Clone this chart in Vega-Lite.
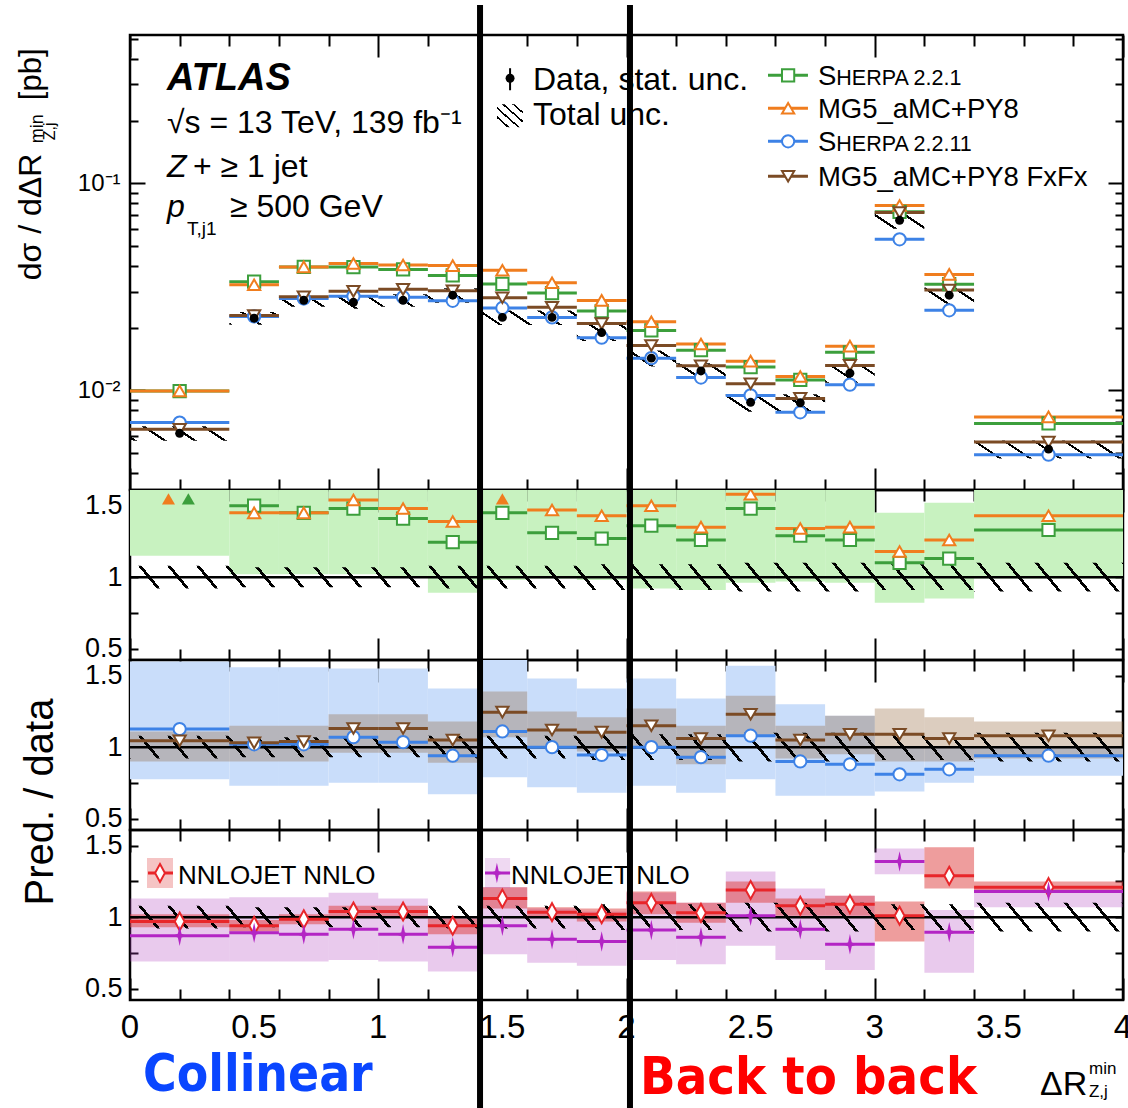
{
"$schema":"https://vega.github.io/schema/vega-lite/v6.json",
"background":"white",
"padding":{"left":13,"top":0,"right":0,"bottom":0},
"spacing":0,
"bounds":"flush",
"config":{
 "view":{"stroke":"black","strokeWidth":2.5},
 "font":"Liberation Sans",
 "text":{"color":"black","font":"Liberation Sans"},
 "rule":{"color":"black"},
 "point":{"opacity":1},
 "axis":{"domain":false,"ticks":false,"tickSize":0,"grid":true,"gridColor":"black","gridWidth":2,"gridOpacity":1,"labelColor":"black","labelFont":"Liberation Sans","zindex":1,"labelOverlap":false,"labelFlush":false,"title":null},
 "area":{"fill":{"gradient":"linear","x1":0,"y1":1,"x2":1.3266,"y2":0.9688,"stops":[
{"offset":0,"color":"transparent"},{"offset":0,"color":"#000"},{"offset":0.0028,"color":"#000"},{"offset":0.0028,"color":"transparent"},
{"offset":0.022,"color":"transparent"},{"offset":0.022,"color":"#000"},{"offset":0.0248,"color":"#000"},{"offset":0.0248,"color":"transparent"},
{"offset":0.044,"color":"transparent"},{"offset":0.044,"color":"#000"},{"offset":0.0468,"color":"#000"},{"offset":0.0468,"color":"transparent"},
{"offset":0.066,"color":"transparent"},{"offset":0.066,"color":"#000"},{"offset":0.0688,"color":"#000"},{"offset":0.0688,"color":"transparent"},
{"offset":0.088,"color":"transparent"},{"offset":0.088,"color":"#000"},{"offset":0.0908,"color":"#000"},{"offset":0.0908,"color":"transparent"},
{"offset":0.11,"color":"transparent"},{"offset":0.11,"color":"#000"},{"offset":0.1128,"color":"#000"},{"offset":0.1128,"color":"transparent"},
{"offset":0.132,"color":"transparent"},{"offset":0.132,"color":"#000"},{"offset":0.1348,"color":"#000"},{"offset":0.1348,"color":"transparent"},
{"offset":0.154,"color":"transparent"},{"offset":0.154,"color":"#000"},{"offset":0.1568,"color":"#000"},{"offset":0.1568,"color":"transparent"},
{"offset":0.176,"color":"transparent"},{"offset":0.176,"color":"#000"},{"offset":0.1788,"color":"#000"},{"offset":0.1788,"color":"transparent"},
{"offset":0.198,"color":"transparent"},{"offset":0.198,"color":"#000"},{"offset":0.2008,"color":"#000"},{"offset":0.2008,"color":"transparent"},
{"offset":0.22,"color":"transparent"},{"offset":0.22,"color":"#000"},{"offset":0.2228,"color":"#000"},{"offset":0.2228,"color":"transparent"},
{"offset":0.242,"color":"transparent"},{"offset":0.242,"color":"#000"},{"offset":0.2448,"color":"#000"},{"offset":0.2448,"color":"transparent"},
{"offset":0.264,"color":"transparent"},{"offset":0.264,"color":"#000"},{"offset":0.2668,"color":"#000"},{"offset":0.2668,"color":"transparent"},
{"offset":0.286,"color":"transparent"},{"offset":0.286,"color":"#000"},{"offset":0.2888,"color":"#000"},{"offset":0.2888,"color":"transparent"},
{"offset":0.308,"color":"transparent"},{"offset":0.308,"color":"#000"},{"offset":0.3108,"color":"#000"},{"offset":0.3108,"color":"transparent"},
{"offset":0.33,"color":"transparent"},{"offset":0.33,"color":"#000"},{"offset":0.3328,"color":"#000"},{"offset":0.3328,"color":"transparent"},
{"offset":0.352,"color":"transparent"},{"offset":0.352,"color":"#000"},{"offset":0.3548,"color":"#000"},{"offset":0.3548,"color":"transparent"},
{"offset":0.374,"color":"transparent"},{"offset":0.374,"color":"#000"},{"offset":0.3768,"color":"#000"},{"offset":0.3768,"color":"transparent"},
{"offset":0.396,"color":"transparent"},{"offset":0.396,"color":"#000"},{"offset":0.3988,"color":"#000"},{"offset":0.3988,"color":"transparent"},
{"offset":0.418,"color":"transparent"},{"offset":0.418,"color":"#000"},{"offset":0.4208,"color":"#000"},{"offset":0.4208,"color":"transparent"},
{"offset":0.44,"color":"transparent"},{"offset":0.44,"color":"#000"},{"offset":0.4428,"color":"#000"},{"offset":0.4428,"color":"transparent"},
{"offset":0.462,"color":"transparent"},{"offset":0.462,"color":"#000"},{"offset":0.4648,"color":"#000"},{"offset":0.4648,"color":"transparent"},
{"offset":0.484,"color":"transparent"},{"offset":0.484,"color":"#000"},{"offset":0.4868,"color":"#000"},{"offset":0.4868,"color":"transparent"},
{"offset":0.506,"color":"transparent"},{"offset":0.506,"color":"#000"},{"offset":0.5088,"color":"#000"},{"offset":0.5088,"color":"transparent"},
{"offset":0.528,"color":"transparent"},{"offset":0.528,"color":"#000"},{"offset":0.5308,"color":"#000"},{"offset":0.5308,"color":"transparent"},
{"offset":0.55,"color":"transparent"},{"offset":0.55,"color":"#000"},{"offset":0.5528,"color":"#000"},{"offset":0.5528,"color":"transparent"},
{"offset":0.572,"color":"transparent"},{"offset":0.572,"color":"#000"},{"offset":0.5748,"color":"#000"},{"offset":0.5748,"color":"transparent"},
{"offset":0.594,"color":"transparent"},{"offset":0.594,"color":"#000"},{"offset":0.5968,"color":"#000"},{"offset":0.5968,"color":"transparent"},
{"offset":0.616,"color":"transparent"},{"offset":0.616,"color":"#000"},{"offset":0.6188,"color":"#000"},{"offset":0.6188,"color":"transparent"},
{"offset":0.638,"color":"transparent"},{"offset":0.638,"color":"#000"},{"offset":0.6408,"color":"#000"},{"offset":0.6408,"color":"transparent"},
{"offset":0.66,"color":"transparent"},{"offset":0.66,"color":"#000"},{"offset":0.6628,"color":"#000"},{"offset":0.6628,"color":"transparent"},
{"offset":0.682,"color":"transparent"},{"offset":0.682,"color":"#000"},{"offset":0.6848,"color":"#000"},{"offset":0.6848,"color":"transparent"},
{"offset":0.704,"color":"transparent"},{"offset":0.704,"color":"#000"},{"offset":0.7068,"color":"#000"},{"offset":0.7068,"color":"transparent"},
{"offset":0.726,"color":"transparent"},{"offset":0.726,"color":"#000"},{"offset":0.7288,"color":"#000"},{"offset":0.7288,"color":"transparent"},
{"offset":0.748,"color":"transparent"},{"offset":0.748,"color":"#000"},{"offset":0.7508,"color":"#000"},{"offset":0.7508,"color":"transparent"},
{"offset":0.77,"color":"transparent"},{"offset":0.77,"color":"#000"},{"offset":0.7728,"color":"#000"},{"offset":0.7728,"color":"transparent"}
 ]}}
},
"datasets":{
 "dat":[
{"lo":0,"hi":0.4,"c":0.2,"d":0.0062},
{"lo":0.4,"hi":0.6,"c":0.5,"d":0.0223},
{"lo":0.6,"hi":0.8,"c":0.7,"d":0.0272},
{"lo":0.8,"hi":1.0,"c":0.9,"d":0.0266},
{"lo":1.0,"hi":1.2,"c":1.1,"d":0.0272},
{"lo":1.2,"hi":1.4,"c":1.3,"d":0.0288},
{"lo":1.4,"hi":1.6,"c":1.5,"d":0.0225},
{"lo":1.6,"hi":1.8,"c":1.7,"d":0.0225},
{"lo":1.8,"hi":2.0,"c":1.9,"d":0.019},
{"lo":2.0,"hi":2.2,"c":2.1,"d":0.0143},
{"lo":2.2,"hi":2.4,"c":2.3,"d":0.0124},
{"lo":2.4,"hi":2.6,"c":2.5,"d":0.00875},
{"lo":2.6,"hi":2.8,"c":2.7,"d":0.0087},
{"lo":2.8,"hi":3.0,"c":2.9,"d":0.0121},
{"lo":3.0,"hi":3.2,"c":3.1,"d":0.0662},
{"lo":3.2,"hi":3.4,"c":3.3,"d":0.0288},
{"lo":3.4,"hi":4.0,"c":3.7,"d":0.0052}
 ],
 "hat":[
{"x":0,"alo":0.005704,"ahi":0.006696,"rlo":0.92,"rhi":1.08},
{"x":0.4,"alo":0.020739,"ahi":0.023861,"rlo":0.93,"rhi":1.07},
{"x":0.6,"alo":0.025296,"ahi":0.029104,"rlo":0.93,"rhi":1.07},
{"x":0.8,"alo":0.024738,"ahi":0.028462,"rlo":0.93,"rhi":1.07},
{"x":1.0,"alo":0.025296,"ahi":0.029104,"rlo":0.93,"rhi":1.07},
{"x":1.2,"alo":0.026496,"ahi":0.031104,"rlo":0.92,"rhi":1.08},
{"x":1.4,"alo":0.0207,"ahi":0.0243,"rlo":0.92,"rhi":1.08},
{"x":1.6,"alo":0.0207,"ahi":0.0243,"rlo":0.92,"rhi":1.08},
{"x":1.8,"alo":0.01729,"ahi":0.02071,"rlo":0.91,"rhi":1.09},
{"x":2.0,"alo":0.013013,"ahi":0.015587,"rlo":0.91,"rhi":1.09},
{"x":2.2,"alo":0.011284,"ahi":0.013516,"rlo":0.91,"rhi":1.09},
{"x":2.4,"alo":0.007875,"ahi":0.009625,"rlo":0.9,"rhi":1.1},
{"x":2.6,"alo":0.00783,"ahi":0.00957,"rlo":0.9,"rhi":1.1},
{"x":2.8,"alo":0.01089,"ahi":0.01331,"rlo":0.9,"rhi":1.1},
{"x":3.0,"alo":0.060242,"ahi":0.072158,"rlo":0.91,"rhi":1.09},
{"x":3.2,"alo":0.026208,"ahi":0.031392,"rlo":0.91,"rhi":1.09},
{"x":3.4,"alo":0.00468,"ahi":0.00572,"rlo":0.9,"rhi":1.1},
{"x":4.0,"alo":0.00468,"ahi":0.00572,"rlo":0.9,"rhi":1.1}
 ],
 "splits":[{"b":1.41},{"b":2.014}],
 "xl":[{"v":0},{"v":0.5},{"v":1},{"v":1.5},{"v":2},{"v":2.5},{"v":3},{"v":3.5},{"v":4}],
 "arrows":[{"x":0.155,"s":"MG5"},{"x":0.235,"s":"S221"},{"x":1.5,"s":"MG5"}],
 "pred":[
{"s":"S221","lo":0,"hi":0.4,"c":0.2,"v":0.00992,"r":1.6,"bl":1.15,"bh":1.7},
{"s":"S221","lo":0.4,"hi":0.6,"c":0.5,"v":0.03345,"r":1.5,"bl":1.02,"bh":1.7},
{"s":"S221","lo":0.6,"hi":0.8,"c":0.7,"v":0.03944,"r":1.45,"bl":1.02,"bh":1.7},
{"s":"S221","lo":0.8,"hi":1.0,"c":0.9,"v":0.03937,"r":1.48,"bl":1.02,"bh":1.7},
{"s":"S221","lo":1.0,"hi":1.2,"c":1.1,"v":0.03835,"r":1.41,"bl":1.0,"bh":1.7},
{"s":"S221","lo":1.2,"hi":1.4,"c":1.3,"v":0.03586,"r":1.245,"bl":0.89,"bh":1.65},
{"s":"S221","lo":1.4,"hi":1.6,"c":1.5,"v":0.03263,"r":1.45,"bl":0.98,"bh":1.7},
{"s":"S221","lo":1.6,"hi":1.8,"c":1.7,"v":0.02948,"r":1.31,"bl":0.99,"bh":1.7},
{"s":"S221","lo":1.8,"hi":2.0,"c":1.9,"v":0.02413,"r":1.27,"bl":0.98,"bh":1.7},
{"s":"S221","lo":2.0,"hi":2.2,"c":2.1,"v":0.01945,"r":1.36,"bl":0.92,"bh":1.7},
{"s":"S221","lo":2.2,"hi":2.4,"c":2.3,"v":0.01562,"r":1.26,"bl":0.91,"bh":1.7},
{"s":"S221","lo":2.4,"hi":2.6,"c":2.5,"v":0.01295,"r":1.48,"bl":0.96,"bh":1.7},
{"s":"S221","lo":2.6,"hi":2.8,"c":2.7,"v":0.01122,"r":1.29,"bl":0.97,"bh":1.7},
{"s":"S221","lo":2.8,"hi":3.0,"c":2.9,"v":0.01525,"r":1.26,"bl":0.96,"bh":1.7},
{"s":"S221","lo":3.0,"hi":3.2,"c":3.1,"v":0.07282,"r":1.1,"bl":0.82,"bh":1.45},
{"s":"S221","lo":3.2,"hi":3.4,"c":3.3,"v":0.03254,"r":1.13,"bl":0.85,"bh":1.52},
{"s":"S221","lo":3.4,"hi":4.0,"c":3.7,"v":0.00692,"r":1.33,"bl":0.99,"bh":1.7},
{"s":"MG5","lo":0,"hi":0.4,"c":0.2,"v":0.00992,"r":1.6},
{"s":"MG5","lo":0.4,"hi":0.6,"c":0.5,"v":0.03234,"r":1.45},
{"s":"MG5","lo":0.6,"hi":0.8,"c":0.7,"v":0.03944,"r":1.45},
{"s":"MG5","lo":0.8,"hi":1.0,"c":0.9,"v":0.04096,"r":1.54},
{"s":"MG5","lo":1.0,"hi":1.2,"c":1.1,"v":0.04026,"r":1.48},
{"s":"MG5","lo":1.2,"hi":1.4,"c":1.3,"v":0.04003,"r":1.39},
{"s":"MG5","lo":1.4,"hi":1.6,"c":1.5,"v":0.03803,"r":1.69},
{"s":"MG5","lo":1.6,"hi":1.8,"c":1.7,"v":0.03308,"r":1.47},
{"s":"MG5","lo":1.8,"hi":2.0,"c":1.9,"v":0.02717,"r":1.43},
{"s":"MG5","lo":2.0,"hi":2.2,"c":2.1,"v":0.02145,"r":1.5},
{"s":"MG5","lo":2.2,"hi":2.4,"c":2.3,"v":0.01674,"r":1.35},
{"s":"MG5","lo":2.4,"hi":2.6,"c":2.5,"v":0.01383,"r":1.58},
{"s":"MG5","lo":2.6,"hi":2.8,"c":2.7,"v":0.01166,"r":1.34},
{"s":"MG5","lo":2.8,"hi":3.0,"c":2.9,"v":0.01634,"r":1.35},
{"s":"MG5","lo":3.0,"hi":3.2,"c":3.1,"v":0.07812,"r":1.18},
{"s":"MG5","lo":3.2,"hi":3.4,"c":3.3,"v":0.03629,"r":1.26},
{"s":"MG5","lo":3.4,"hi":4.0,"c":3.7,"v":0.00744,"r":1.43},
{"s":"S2211","lo":0,"hi":0.4,"c":0.2,"v":0.00699,"r":1.127,"bl":0.775,"bh":1.6},
{"s":"S2211","lo":0.4,"hi":0.6,"c":0.5,"v":0.02275,"r":1.02,"bl":0.73,"bh":1.56},
{"s":"S2211","lo":0.6,"hi":0.8,"c":0.7,"v":0.02774,"r":1.02,"bl":0.73,"bh":1.56},
{"s":"S2211","lo":0.8,"hi":1.0,"c":0.9,"v":0.02846,"r":1.07,"bl":0.75,"bh":1.55},
{"s":"S2211","lo":1.0,"hi":1.2,"c":1.1,"v":0.02815,"r":1.035,"bl":0.75,"bh":1.55},
{"s":"S2211","lo":1.2,"hi":1.4,"c":1.3,"v":0.02707,"r":0.94,"bl":0.67,"bh":1.41},
{"s":"S2211","lo":1.4,"hi":1.6,"c":1.5,"v":0.02498,"r":1.11,"bl":0.79,"bh":1.62},
{"s":"S2211","lo":1.6,"hi":1.8,"c":1.7,"v":0.0225,"r":1.0,"bl":0.72,"bh":1.48},
{"s":"S2211","lo":1.8,"hi":2.0,"c":1.9,"v":0.01796,"r":0.945,"bl":0.68,"bh":1.41},
{"s":"S2211","lo":2.0,"hi":2.2,"c":2.1,"v":0.0143,"r":1.0,"bl":0.73,"bh":1.48},
{"s":"S2211","lo":2.2,"hi":2.4,"c":2.3,"v":0.01153,"r":0.93,"bl":0.68,"bh":1.34},
{"s":"S2211","lo":2.4,"hi":2.6,"c":2.5,"v":0.00945,"r":1.08,"bl":0.775,"bh":1.57},
{"s":"S2211","lo":2.6,"hi":2.8,"c":2.7,"v":0.00783,"r":0.9,"bl":0.66,"bh":1.3},
{"s":"S2211","lo":2.8,"hi":3.0,"c":2.9,"v":0.01065,"r":0.88,"bl":0.66,"bh":1.22},
{"s":"S2211","lo":3.0,"hi":3.2,"c":3.1,"v":0.05362,"r":0.81,"bl":0.69,"bh":1.0},
{"s":"S2211","lo":3.2,"hi":3.4,"c":3.3,"v":0.02434,"r":0.845,"bl":0.75,"bh":1.0},
{"s":"S2211","lo":3.4,"hi":4.0,"c":3.7,"v":0.00489,"r":0.94,"bl":0.8,"bh":1.0},
{"s":"FxFx","lo":0,"hi":0.4,"c":0.2,"v":0.00648,"r":1.045,"bl":0.9,"bh":1.11},
{"s":"FxFx","lo":0.4,"hi":0.6,"c":0.5,"v":0.02297,"r":1.03,"bl":0.9,"bh":1.15},
{"s":"FxFx","lo":0.6,"hi":0.8,"c":0.7,"v":0.02829,"r":1.04,"bl":0.9,"bh":1.15},
{"s":"FxFx","lo":0.8,"hi":1.0,"c":0.9,"v":0.03006,"r":1.13,"bl":0.96,"bh":1.23},
{"s":"FxFx","lo":1.0,"hi":1.2,"c":1.1,"v":0.03074,"r":1.13,"bl":0.96,"bh":1.23},
{"s":"FxFx","lo":1.2,"hi":1.4,"c":1.3,"v":0.03024,"r":1.05,"bl":0.89,"bh":1.18},
{"s":"FxFx","lo":1.4,"hi":1.6,"c":1.5,"v":0.02801,"r":1.245,"bl":1.07,"bh":1.39},
{"s":"FxFx","lo":1.6,"hi":1.8,"c":1.7,"v":0.0252,"r":1.12,"bl":0.99,"bh":1.25},
{"s":"FxFx","lo":1.8,"hi":2.0,"c":1.9,"v":0.021,"r":1.105,"bl":0.97,"bh":1.21},
{"s":"FxFx","lo":2.0,"hi":2.2,"c":2.1,"v":0.01645,"r":1.15,"bl":0.99,"bh":1.27},
{"s":"FxFx","lo":2.2,"hi":2.4,"c":2.3,"v":0.01314,"r":1.06,"bl":0.88,"bh":1.15},
{"s":"FxFx","lo":2.4,"hi":2.6,"c":2.5,"v":0.01076,"r":1.23,"bl":1.08,"bh":1.36},
{"s":"FxFx","lo":2.6,"hi":2.8,"c":2.7,"v":0.00914,"r":1.05,"bl":0.92,"bh":1.15},
{"s":"FxFx","lo":2.8,"hi":3.0,"c":2.9,"v":0.01319,"r":1.09,"bl":0.95,"bh":1.22},
{"s":"FxFx","lo":3.0,"hi":3.2,"c":3.1,"v":0.07216,"r":1.09,"bl":0.9,"bh":1.27},
{"s":"FxFx","lo":3.2,"hi":3.4,"c":3.3,"v":0.03053,"r":1.06,"bl":0.9,"bh":1.21},
{"s":"FxFx","lo":3.4,"hi":4.0,"c":3.7,"v":0.00562,"r":1.08,"bl":0.92,"bh":1.18},
{"s":"NLO","lo":0,"hi":0.4,"c":0.2,"r":0.87,"bl":0.69,"bh":1.13},
{"s":"NLO","lo":0.4,"hi":0.6,"c":0.5,"r":0.89,"bl":0.69,"bh":1.14},
{"s":"NLO","lo":0.6,"hi":0.8,"c":0.7,"r":0.88,"bl":0.69,"bh":1.14},
{"s":"NLO","lo":0.8,"hi":1.0,"c":0.9,"r":0.915,"bl":0.7,"bh":1.17},
{"s":"NLO","lo":1.0,"hi":1.2,"c":1.1,"r":0.88,"bl":0.69,"bh":1.13},
{"s":"NLO","lo":1.2,"hi":1.4,"c":1.3,"r":0.79,"bl":0.62,"bh":1.0},
{"s":"NLO","lo":1.4,"hi":1.6,"c":1.5,"r":0.94,"bl":0.74,"bh":1.21},
{"s":"NLO","lo":1.6,"hi":1.8,"c":1.7,"r":0.845,"bl":0.68,"bh":1.06},
{"s":"NLO","lo":1.8,"hi":2.0,"c":1.9,"r":0.83,"bl":0.66,"bh":1.04},
{"s":"NLO","lo":2.0,"hi":2.2,"c":2.1,"r":0.91,"bl":0.7,"bh":1.17},
{"s":"NLO","lo":2.2,"hi":2.4,"c":2.3,"r":0.86,"bl":0.67,"bh":1.1},
{"s":"NLO","lo":2.4,"hi":2.6,"c":2.5,"r":1.01,"bl":0.8,"bh":1.32},
{"s":"NLO","lo":2.6,"hi":2.8,"c":2.7,"r":0.915,"bl":0.7,"bh":1.2},
{"s":"NLO","lo":2.8,"hi":3.0,"c":2.9,"r":0.81,"bl":0.63,"bh":1.15},
{"s":"NLO","lo":3.0,"hi":3.2,"c":3.1,"r":1.39,"bl":1.3,"bh":1.48},
{"s":"NLO","lo":3.2,"hi":3.4,"c":3.3,"r":0.895,"bl":0.61,"bh":1.05},
{"s":"NLO","lo":3.4,"hi":4.0,"c":3.7,"r":1.18,"bl":1.07,"bh":1.2},
{"s":"NNLO","lo":0,"hi":0.4,"c":0.2,"r":0.97,"bl":0.93,"bh":1.02},
{"s":"NNLO","lo":0.4,"hi":0.6,"c":0.5,"r":0.94,"bl":0.9,"bh":0.98},
{"s":"NNLO","lo":0.6,"hi":0.8,"c":0.7,"r":0.985,"bl":0.95,"bh":1.02},
{"s":"NNLO","lo":0.8,"hi":1.0,"c":0.9,"r":1.04,"bl":1.0,"bh":1.08},
{"s":"NNLO","lo":1.0,"hi":1.2,"c":1.1,"r":1.04,"bl":1.0,"bh":1.08},
{"s":"NNLO","lo":1.2,"hi":1.4,"c":1.3,"r":0.94,"bl":0.88,"bh":0.99},
{"s":"NNLO","lo":1.4,"hi":1.6,"c":1.5,"r":1.13,"bl":1.06,"bh":1.21},
{"s":"NNLO","lo":1.6,"hi":1.8,"c":1.7,"r":1.035,"bl":1.0,"bh":1.07},
{"s":"NNLO","lo":1.8,"hi":2.0,"c":1.9,"r":1.02,"bl":0.97,"bh":1.06},
{"s":"NNLO","lo":2.0,"hi":2.2,"c":2.1,"r":1.1,"bl":1.02,"bh":1.18},
{"s":"NNLO","lo":2.2,"hi":2.4,"c":2.3,"r":1.03,"bl":0.96,"bh":1.1},
{"s":"NNLO","lo":2.4,"hi":2.6,"c":2.5,"r":1.19,"bl":1.1,"bh":1.25},
{"s":"NNLO","lo":2.6,"hi":2.8,"c":2.7,"r":1.08,"bl":1.01,"bh":1.13},
{"s":"NNLO","lo":2.8,"hi":3.0,"c":2.9,"r":1.09,"bl":1.01,"bh":1.15},
{"s":"NNLO","lo":3.0,"hi":3.2,"c":3.1,"r":1.01,"bl":0.83,"bh":1.11},
{"s":"NNLO","lo":3.2,"hi":3.4,"c":3.3,"r":1.29,"bl":1.2,"bh":1.49},
{"s":"NNLO","lo":3.4,"hi":4.0,"c":3.7,"r":1.21,"bl":1.17,"bh":1.25}
 ]
},
"vconcat":[
{
 "width":993,"height":455,
 "layer":[
  {"data":{"name":"hat"},"mark":{"type":"point","opacity":0},
   "encoding":{
    "x":{"field":"x","type":"quantitative","scale":{"domain":[0,4],"nice":false,"zero":false},"axis":{"values":[0,0.1,0.2,0.3,0.4,0.5,0.6,0.7,0.8,0.9,1,1.1,1.2,1.3,1.4,1.5,1.6,1.7,1.8,1.9,2,2.1,2.2,2.3,2.4,2.5,2.6,2.7,2.8,2.9,3,3.1,3.2,3.3,3.4,3.5,3.6,3.7,3.8,3.9,4],"labels":false,"title":null,"gridDash":{"condition":{"test":"abs(datum.value*2-round(datum.value*2))<0.001","value":[22,411,22]},"value":[11,433,11]}}},
    "y":{"field":"alo","type":"quantitative","scale":{"type":"log","domain":[0.0033,0.52],"nice":false},"axis":{"values":[0.004,0.005,0.006,0.007,0.008,0.009,0.01,0.02,0.03,0.04,0.05,0.06,0.07,0.08,0.09,0.1,0.2,0.3,0.4,0.5],"title":null,"labelOverlap":false,"labelExpr":"datum.value==0.1?'10⁻¹':datum.value==0.01?'10⁻²':''","labelFontSize":24,"labelPadding":10,"gridDash":{"condition":{"test":"datum.value==0.01||datum.value==0.1","value":[15,963,15]},"value":[8,977,8]}}}
   }},
  {"data":{"name":"hat"},
   "mark":{"type":"area","interpolate":"step-after","clip":true,"fill":{"gradient":"linear","x1":0,"y1":1,"x2":1.2049,"y2":0.5522,"stops":[
{"offset":0,"color":"transparent"},{"offset":0,"color":"#000"},{"offset":0.0028,"color":"#000"},{"offset":0.0028,"color":"transparent"},
{"offset":0.022,"color":"transparent"},{"offset":0.022,"color":"#000"},{"offset":0.0248,"color":"#000"},{"offset":0.0248,"color":"transparent"},
{"offset":0.044,"color":"transparent"},{"offset":0.044,"color":"#000"},{"offset":0.0468,"color":"#000"},{"offset":0.0468,"color":"transparent"},
{"offset":0.066,"color":"transparent"},{"offset":0.066,"color":"#000"},{"offset":0.0688,"color":"#000"},{"offset":0.0688,"color":"transparent"},
{"offset":0.088,"color":"transparent"},{"offset":0.088,"color":"#000"},{"offset":0.0908,"color":"#000"},{"offset":0.0908,"color":"transparent"},
{"offset":0.11,"color":"transparent"},{"offset":0.11,"color":"#000"},{"offset":0.1128,"color":"#000"},{"offset":0.1128,"color":"transparent"},
{"offset":0.132,"color":"transparent"},{"offset":0.132,"color":"#000"},{"offset":0.1348,"color":"#000"},{"offset":0.1348,"color":"transparent"},
{"offset":0.154,"color":"transparent"},{"offset":0.154,"color":"#000"},{"offset":0.1568,"color":"#000"},{"offset":0.1568,"color":"transparent"},
{"offset":0.176,"color":"transparent"},{"offset":0.176,"color":"#000"},{"offset":0.1788,"color":"#000"},{"offset":0.1788,"color":"transparent"},
{"offset":0.198,"color":"transparent"},{"offset":0.198,"color":"#000"},{"offset":0.2008,"color":"#000"},{"offset":0.2008,"color":"transparent"},
{"offset":0.22,"color":"transparent"},{"offset":0.22,"color":"#000"},{"offset":0.2228,"color":"#000"},{"offset":0.2228,"color":"transparent"},
{"offset":0.242,"color":"transparent"},{"offset":0.242,"color":"#000"},{"offset":0.2448,"color":"#000"},{"offset":0.2448,"color":"transparent"},
{"offset":0.264,"color":"transparent"},{"offset":0.264,"color":"#000"},{"offset":0.2668,"color":"#000"},{"offset":0.2668,"color":"transparent"},
{"offset":0.286,"color":"transparent"},{"offset":0.286,"color":"#000"},{"offset":0.2888,"color":"#000"},{"offset":0.2888,"color":"transparent"},
{"offset":0.308,"color":"transparent"},{"offset":0.308,"color":"#000"},{"offset":0.3108,"color":"#000"},{"offset":0.3108,"color":"transparent"},
{"offset":0.33,"color":"transparent"},{"offset":0.33,"color":"#000"},{"offset":0.3328,"color":"#000"},{"offset":0.3328,"color":"transparent"},
{"offset":0.352,"color":"transparent"},{"offset":0.352,"color":"#000"},{"offset":0.3548,"color":"#000"},{"offset":0.3548,"color":"transparent"},
{"offset":0.374,"color":"transparent"},{"offset":0.374,"color":"#000"},{"offset":0.3768,"color":"#000"},{"offset":0.3768,"color":"transparent"},
{"offset":0.396,"color":"transparent"},{"offset":0.396,"color":"#000"},{"offset":0.3988,"color":"#000"},{"offset":0.3988,"color":"transparent"},
{"offset":0.418,"color":"transparent"},{"offset":0.418,"color":"#000"},{"offset":0.4208,"color":"#000"},{"offset":0.4208,"color":"transparent"},
{"offset":0.44,"color":"transparent"},{"offset":0.44,"color":"#000"},{"offset":0.4428,"color":"#000"},{"offset":0.4428,"color":"transparent"},
{"offset":0.462,"color":"transparent"},{"offset":0.462,"color":"#000"},{"offset":0.4648,"color":"#000"},{"offset":0.4648,"color":"transparent"},
{"offset":0.484,"color":"transparent"},{"offset":0.484,"color":"#000"},{"offset":0.4868,"color":"#000"},{"offset":0.4868,"color":"transparent"},
{"offset":0.506,"color":"transparent"},{"offset":0.506,"color":"#000"},{"offset":0.5088,"color":"#000"},{"offset":0.5088,"color":"transparent"},
{"offset":0.528,"color":"transparent"},{"offset":0.528,"color":"#000"},{"offset":0.5308,"color":"#000"},{"offset":0.5308,"color":"transparent"},
{"offset":0.55,"color":"transparent"},{"offset":0.55,"color":"#000"},{"offset":0.5528,"color":"#000"},{"offset":0.5528,"color":"transparent"},
{"offset":0.572,"color":"transparent"},{"offset":0.572,"color":"#000"},{"offset":0.5748,"color":"#000"},{"offset":0.5748,"color":"transparent"},
{"offset":0.594,"color":"transparent"},{"offset":0.594,"color":"#000"},{"offset":0.5968,"color":"#000"},{"offset":0.5968,"color":"transparent"},
{"offset":0.616,"color":"transparent"},{"offset":0.616,"color":"#000"},{"offset":0.6188,"color":"#000"},{"offset":0.6188,"color":"transparent"},
{"offset":0.638,"color":"transparent"},{"offset":0.638,"color":"#000"},{"offset":0.6408,"color":"#000"},{"offset":0.6408,"color":"transparent"},
{"offset":0.66,"color":"transparent"},{"offset":0.66,"color":"#000"},{"offset":0.6628,"color":"#000"},{"offset":0.6628,"color":"transparent"},
{"offset":0.682,"color":"transparent"},{"offset":0.682,"color":"#000"},{"offset":0.6848,"color":"#000"},{"offset":0.6848,"color":"transparent"},
{"offset":0.704,"color":"transparent"},{"offset":0.704,"color":"#000"},{"offset":0.7068,"color":"#000"},{"offset":0.7068,"color":"transparent"},
{"offset":0.726,"color":"transparent"},{"offset":0.726,"color":"#000"},{"offset":0.7288,"color":"#000"},{"offset":0.7288,"color":"transparent"},
{"offset":0.748,"color":"transparent"},{"offset":0.748,"color":"#000"},{"offset":0.7508,"color":"#000"},{"offset":0.7508,"color":"transparent"},
{"offset":0.77,"color":"transparent"},{"offset":0.77,"color":"#000"},{"offset":0.7728,"color":"#000"},{"offset":0.7728,"color":"transparent"},
{"offset":0.792,"color":"transparent"},{"offset":0.792,"color":"#000"},{"offset":0.7948,"color":"#000"},{"offset":0.7948,"color":"transparent"},
{"offset":0.814,"color":"transparent"},{"offset":0.814,"color":"#000"},{"offset":0.8168,"color":"#000"},{"offset":0.8168,"color":"transparent"},
{"offset":0.836,"color":"transparent"},{"offset":0.836,"color":"#000"},{"offset":0.8388,"color":"#000"},{"offset":0.8388,"color":"transparent"},
{"offset":0.858,"color":"transparent"},{"offset":0.858,"color":"#000"},{"offset":0.8608,"color":"#000"},{"offset":0.8608,"color":"transparent"},
{"offset":0.88,"color":"transparent"},{"offset":0.88,"color":"#000"},{"offset":0.8828,"color":"#000"},{"offset":0.8828,"color":"transparent"},
{"offset":0.902,"color":"transparent"},{"offset":0.902,"color":"#000"},{"offset":0.9048,"color":"#000"},{"offset":0.9048,"color":"transparent"},
{"offset":0.924,"color":"transparent"},{"offset":0.924,"color":"#000"},{"offset":0.9268,"color":"#000"},{"offset":0.9268,"color":"transparent"},
{"offset":0.946,"color":"transparent"},{"offset":0.946,"color":"#000"},{"offset":0.9488,"color":"#000"},{"offset":0.9488,"color":"transparent"},
{"offset":0.968,"color":"transparent"},{"offset":0.968,"color":"#000"},{"offset":0.9708,"color":"#000"},{"offset":0.9708,"color":"transparent"},
{"offset":0.99,"color":"transparent"},{"offset":0.99,"color":"#000"},{"offset":0.9928,"color":"#000"},{"offset":0.9928,"color":"transparent"}
   ]}},
   "encoding":{"x":{"field":"x","type":"quantitative"},"y":{"field":"alo","type":"quantitative"},"y2":{"field":"ahi"}}},
  {"data":{"name":"pred"},"transform":[{"filter":{"field":"s","oneOf":["S221","MG5","S2211","FxFx"]}}],
   "mark":{"type":"rule","strokeWidth":3,"clip":true},
   "encoding":{"x":{"field":"lo","type":"quantitative"},"x2":{"field":"hi"},"y":{"field":"v","type":"quantitative"},
    "color":{"field":"s","type":"nominal","scale":{"domain":["S221","MG5","S2211","FxFx","NNLO","NLO"],"range":["#3c9f3c","#f07d1e","#3d82e6","#7b4b25","#e8262a","#b325c4"]},"legend":null}}},
  {"data":{"name":"pred"},"transform":[{"filter":{"field":"s","oneOf":["S221","MG5","S2211","FxFx"]}}],
   "mark":{"type":"point","fill":"white","strokeWidth":2,"size":150,"clip":true},
   "encoding":{"x":{"field":"c","type":"quantitative"},"y":{"field":"v","type":"quantitative"},
    "stroke":{"field":"s","type":"nominal","scale":{"domain":["S221","MG5","S2211","FxFx","NNLO","NLO"],"range":["#3c9f3c","#f07d1e","#3d82e6","#7b4b25","#e8262a","#b325c4"]},"legend":null},
    "shape":{"field":"s","type":"nominal","scale":{"domain":["S221","MG5","S2211","FxFx","NNLO","NLO"],"range":["square","triangle-up","circle","triangle-down","M0,-1L0.55,0L0,1L-0.55,0Z","M0,-1L0.18,-0.18L0.7,0L0.18,0.18L0,1L-0.18,0.18L-0.7,0L-0.18,-0.18Z"]},"legend":null}}},
  {"data":{"name":"dat"},
   "mark":{"type":"point","shape":"circle","filled":true,"color":"black","size":80},
   "encoding":{"x":{"field":"c","type":"quantitative"},"y":{"field":"d","type":"quantitative"}}},
  {"data":{"values":[{}]},
   "layer":[
    {"mark":{"type":"text","text":"ATLAS","fontSize":38,"fontWeight":"bold","fontStyle":"italic","align":"left","baseline":"alphabetic"},
     "encoding":{"x":{"datum":0.149,"type":"quantitative"},"y":{"datum":0.2813,"type":"quantitative"}}},
    {"mark":{"type":"text","text":"√s = 13 TeV, 139 fb⁻¹","fontSize":32,"align":"left","baseline":"alphabetic"},
     "encoding":{"x":{"datum":0.149,"type":"quantitative"},"y":{"datum":0.1745,"type":"quantitative"}}},
    {"mark":{"type":"text","text":"Z","fontSize":32,"fontStyle":"italic","align":"left","baseline":"alphabetic"},
     "encoding":{"x":{"datum":0.149,"type":"quantitative"},"y":{"datum":0.1069,"type":"quantitative"}}},
    {"mark":{"type":"text","text":"+ ≥ 1 jet","fontSize":32,"align":"left","baseline":"alphabetic"},
     "encoding":{"x":{"datum":0.2538,"type":"quantitative"},"y":{"datum":0.1069,"type":"quantitative"}}},
    {"mark":{"type":"text","text":"p","fontSize":32,"fontStyle":"italic","align":"left","baseline":"alphabetic"},
     "encoding":{"x":{"datum":0.149,"type":"quantitative"},"y":{"datum":0.0685,"type":"quantitative"}}},
    {"mark":{"type":"text","text":"T,j1","fontSize":19,"align":"left","baseline":"alphabetic"},
     "encoding":{"x":{"datum":0.2296,"type":"quantitative"},"y":{"datum":0.0561,"type":"quantitative"}}},
    {"mark":{"type":"text","text":"≥ 500 GeV","fontSize":32,"align":"left","baseline":"alphabetic"},
     "encoding":{"x":{"datum":0.4028,"type":"quantitative"},"y":{"datum":0.0685,"type":"quantitative"}}},
    {"mark":{"type":"text","text":"dσ / dΔR","fontSize":32,"angle":270,"align":"left","baseline":"alphabetic"},
     "encoding":{"x":{"datum":-0.3585,"type":"quantitative"},"y":{"datum":0.034,"type":"quantitative"}}},
    {"mark":{"type":"text","text":"min","fontSize":18,"angle":270,"align":"left","baseline":"alphabetic"},
     "encoding":{"x":{"datum":-0.3504,"type":"quantitative"},"y":{"datum":0.1561,"type":"quantitative"}}},
    {"mark":{"type":"text","text":"Z,j","fontSize":16,"angle":270,"align":"left","baseline":"alphabetic"},
     "encoding":{"x":{"datum":-0.3021,"type":"quantitative"},"y":{"datum":0.1613,"type":"quantitative"}}},
    {"mark":{"type":"text","text":"[pb]","fontSize":31,"angle":270,"align":"left","baseline":"alphabetic"},
     "encoding":{"x":{"datum":-0.3585,"type":"quantitative"},"y":{"datum":0.2518,"type":"quantitative"}}},
    {"mark":{"type":"rule","strokeWidth":2,"color":"black"},
     "encoding":{"x":{"datum":1.531,"type":"quantitative"},"y":{"datum":0.3594,"type":"quantitative"},"y2":{"datum":0.2813}}},
    {"mark":{"type":"point","shape":"circle","filled":true,"color":"black","size":80},
     "encoding":{"x":{"datum":1.531,"type":"quantitative"},"y":{"datum":0.3215,"type":"quantitative"}}},
    {"mark":{"type":"text","text":"Data, stat. unc.","fontSize":32,"align":"left","baseline":"alphabetic"},
     "encoding":{"x":{"datum":1.6234,"type":"quantitative"},"y":{"datum":0.2813,"type":"quantitative"}}},
    {"mark":{"type":"rect","fill":{"gradient":"linear","x1":0,"y1":1,"x2":9,"y2":-8,"stops":[
{"offset":0.022,"color":"transparent"},{"offset":0.022,"color":"#000"},{"offset":0.027,"color":"#000"},{"offset":0.027,"color":"transparent"},
{"offset":0.044,"color":"transparent"},{"offset":0.044,"color":"#000"},{"offset":0.049,"color":"#000"},{"offset":0.049,"color":"transparent"},
{"offset":0.066,"color":"transparent"},{"offset":0.066,"color":"#000"},{"offset":0.071,"color":"#000"},{"offset":0.071,"color":"transparent"},
{"offset":0.088,"color":"transparent"},{"offset":0.088,"color":"#000"},{"offset":0.093,"color":"#000"},{"offset":0.093,"color":"transparent"}
     ]}},
     "encoding":{"x":{"datum":1.4783,"type":"quantitative"},"x2":{"datum":1.5831},"y":{"datum":0.2408,"type":"quantitative"},"y2":{"datum":0.1865}}},
    {"mark":{"type":"text","text":"Total unc.","fontSize":32,"align":"left","baseline":"alphabetic"},
     "encoding":{"x":{"datum":1.6234,"type":"quantitative"},"y":{"datum":0.1906,"type":"quantitative"}}},
    {"mark":{"type":"rule","color":"#3c9f3c","strokeWidth":3},
     "encoding":{"x":{"datum":2.57,"type":"quantitative"},"x2":{"datum":2.731},"y":{"datum":0.3323,"type":"quantitative"}}},
    {"mark":{"type":"point","shape":"square","size":150,"stroke":"#3c9f3c","fill":"white","strokeWidth":2},
     "encoding":{"x":{"datum":2.651,"type":"quantitative"},"y":{"datum":0.3323,"type":"quantitative"}}},
    {"mark":{"type":"text","text":"S","fontSize":27.5,"align":"left","baseline":"alphabetic"},
     "encoding":{"x":{"datum":2.771,"type":"quantitative"},"y":{"datum":0.2975,"type":"quantitative"}}},
    {"mark":{"type":"text","text":"HERPA 2.2.1","fontSize":21.5,"align":"left","baseline":"alphabetic"},
     "encoding":{"x":{"datum":2.845,"type":"quantitative"},"y":{"datum":0.2975,"type":"quantitative"}}},
    {"mark":{"type":"rule","color":"#f07d1e","strokeWidth":3},
     "encoding":{"x":{"datum":2.57,"type":"quantitative"},"x2":{"datum":2.731},"y":{"datum":0.2303,"type":"quantitative"}}},
    {"mark":{"type":"point","shape":"triangle-up","size":150,"stroke":"#f07d1e","fill":"white","strokeWidth":2},
     "encoding":{"x":{"datum":2.651,"type":"quantitative"},"y":{"datum":0.2303,"type":"quantitative"}}},
    {"mark":{"type":"text","text":"MG5_aMC+PY8","fontSize":27.5,"align":"left","baseline":"alphabetic"},
     "encoding":{"x":{"datum":2.771,"type":"quantitative"},"y":{"datum":0.2061,"type":"quantitative"}}},
    {"mark":{"type":"rule","color":"#3d82e6","strokeWidth":3},
     "encoding":{"x":{"datum":2.57,"type":"quantitative"},"x2":{"datum":2.731},"y":{"datum":0.1595,"type":"quantitative"}}},
    {"mark":{"type":"point","shape":"circle","size":150,"stroke":"#3d82e6","fill":"white","strokeWidth":2},
     "encoding":{"x":{"datum":2.651,"type":"quantitative"},"y":{"datum":0.1595,"type":"quantitative"}}},
    {"mark":{"type":"text","text":"S","fontSize":27.5,"align":"left","baseline":"alphabetic"},
     "encoding":{"x":{"datum":2.771,"type":"quantitative"},"y":{"datum":0.1428,"type":"quantitative"}}},
    {"mark":{"type":"text","text":"HERPA 2.2.11","fontSize":21.5,"align":"left","baseline":"alphabetic"},
     "encoding":{"x":{"datum":2.845,"type":"quantitative"},"y":{"datum":0.1428,"type":"quantitative"}}},
    {"mark":{"type":"rule","color":"#7b4b25","strokeWidth":3},
     "encoding":{"x":{"datum":2.57,"type":"quantitative"},"x2":{"datum":2.731},"y":{"datum":0.1081,"type":"quantitative"}}},
    {"mark":{"type":"point","shape":"triangle-down","size":150,"stroke":"#7b4b25","fill":"white","strokeWidth":2},
     "encoding":{"x":{"datum":2.651,"type":"quantitative"},"y":{"datum":0.1081,"type":"quantitative"}}},
    {"mark":{"type":"text","text":"MG5_aMC+PY8 FxFx","fontSize":27.5,"align":"left","baseline":"alphabetic"},
     "encoding":{"x":{"datum":2.771,"type":"quantitative"},"y":{"datum":0.0967,"type":"quantitative"}}}
   ]},
  {"data":{"name":"splits"},
   "mark":{"type":"rule","strokeWidth":6,"color":"black"},
   "encoding":{"x":{"field":"b","type":"quantitative"},"y":{"datum":0.726,"type":"quantitative"},"y2":{"datum":0.0033}}}
 ]
},
{
 "width":993,"height":170,
 "layer":[
  {"data":{"name":"hat"},"mark":{"type":"point","opacity":0},
   "encoding":{
    "x":{"field":"x","type":"quantitative","scale":{"domain":[0,4],"nice":false,"zero":false},"axis":{"values":[0,0.1,0.2,0.3,0.4,0.5,0.6,0.7,0.8,0.9,1,1.1,1.2,1.3,1.4,1.5,1.6,1.7,1.8,1.9,2,2.1,2.2,2.3,2.4,2.5,2.6,2.7,2.8,2.9,3,3.1,3.2,3.3,3.4,3.5,3.6,3.7,3.8,3.9,4],"labels":false,"title":null,"gridDash":{"condition":{"test":"abs(datum.value*2-round(datum.value*2))<0.001","value":[22,126,22]},"value":[11,148,11]}}},
    "y":{"field":"rlo","type":"quantitative","scale":{"domain":[0.42,1.61],"nice":false,"zero":false},"axis":{"values":[0.5,0.75,1,1.25,1.5],"title":null,"labelOverlap":false,"labelExpr":"datum.value==0.75||datum.value==1.25?'':toString(datum.value)","labelFontSize":27,"labelPadding":8,"gridDash":[8,977,8]}}
   }},
  {"data":{"name":"pred"},"transform":[{"filter":{"field":"s","equal":"S221"}}],
   "mark":{"type":"rect","clip":true},
   "encoding":{"x":{"field":"lo","type":"quantitative"},"x2":{"field":"hi"},"y":{"field":"bl","type":"quantitative"},"y2":{"field":"bh"},
    "fill":{"field":"s","type":"nominal","scale":{"domain":["S221","MG5","S2211","FxFx","NNLO","NLO"],"range":["#c8f2c0","#ffffff","#c9ddfa","rgba(139,90,43,0.3)","rgba(222,60,60,0.5)","rgba(176,64,192,0.28)"]},"legend":null}}},
  {"data":{"name":"hat"},
   "mark":{"type":"area","interpolate":"step-after","clip":true},
   "encoding":{"x":{"field":"x","type":"quantitative"},"y":{"field":"rlo","type":"quantitative"},"y2":{"field":"rhi"}}},
  {"data":{"values":[{}]},"mark":{"type":"rule","strokeWidth":2.5,"color":"black"},
   "encoding":{"y":{"datum":1,"type":"quantitative"}}},
  {"data":{"name":"pred"},"transform":[{"filter":{"field":"s","oneOf":["S221","MG5"]}},{"filter":"datum.r < 1.6"}],
   "mark":{"type":"rule","strokeWidth":3,"clip":true},
   "encoding":{"x":{"field":"lo","type":"quantitative"},"x2":{"field":"hi"},"y":{"field":"r","type":"quantitative"},
    "color":{"field":"s","type":"nominal","scale":{"domain":["S221","MG5","S2211","FxFx","NNLO","NLO"],"range":["#3c9f3c","#f07d1e","#3d82e6","#7b4b25","#e8262a","#b325c4"]},"legend":null}}},
  {"data":{"name":"pred"},"transform":[{"filter":{"field":"s","oneOf":["S221","MG5"]}},{"filter":"datum.r < 1.6"}],
   "mark":{"type":"point","fill":"white","strokeWidth":2,"size":150,"clip":true},
   "encoding":{"x":{"field":"c","type":"quantitative"},"y":{"field":"r","type":"quantitative"},
    "stroke":{"field":"s","type":"nominal","scale":{"domain":["S221","MG5","S2211","FxFx","NNLO","NLO"],"range":["#3c9f3c","#f07d1e","#3d82e6","#7b4b25","#e8262a","#b325c4"]},"legend":null},
    "shape":{"field":"s","type":"nominal","scale":{"domain":["S221","MG5","S2211","FxFx","NNLO","NLO"],"range":["square","triangle-up","circle","triangle-down","M0,-1L0.55,0L0,1L-0.55,0Z","M0,-1L0.18,-0.18L0.7,0L0.18,0.18L0,1L-0.18,0.18L-0.7,0L-0.18,-0.18Z"]},"legend":null}}},
  {"data":{"name":"arrows"},
   "mark":{"type":"point","shape":"triangle-up","filled":true,"size":170},
   "encoding":{"x":{"field":"x","type":"quantitative"},"y":{"datum":1.548,"type":"quantitative"},
    "color":{"field":"s","type":"nominal","scale":{"domain":["S221","MG5","S2211","FxFx","NNLO","NLO"],"range":["#3c9f3c","#f07d1e","#3d82e6","#7b4b25","#e8262a","#b325c4"]},"legend":null}}},
  {"data":{"name":"splits"},
   "mark":{"type":"rule","strokeWidth":6,"color":"black"},
   "encoding":{"x":{"field":"b","type":"quantitative"}}}
 ]
},
{
 "width":993,"height":170,
 "layer":[
  {"data":{"name":"hat"},"mark":{"type":"point","opacity":0},
   "encoding":{
    "x":{"field":"x","type":"quantitative","scale":{"domain":[0,4],"nice":false,"zero":false},"axis":{"values":[0,0.1,0.2,0.3,0.4,0.5,0.6,0.7,0.8,0.9,1,1.1,1.2,1.3,1.4,1.5,1.6,1.7,1.8,1.9,2,2.1,2.2,2.3,2.4,2.5,2.6,2.7,2.8,2.9,3,3.1,3.2,3.3,3.4,3.5,3.6,3.7,3.8,3.9,4],"labels":false,"title":null,"gridDash":{"condition":{"test":"abs(datum.value*2-round(datum.value*2))<0.001","value":[22,126,22]},"value":[11,148,11]}}},
    "y":{"field":"rlo","type":"quantitative","scale":{"domain":[0.42,1.61],"nice":false,"zero":false},"axis":{"values":[0.5,0.75,1,1.25,1.5],"title":null,"labelOverlap":false,"labelExpr":"datum.value==0.75||datum.value==1.25?'':toString(datum.value)","labelFontSize":27,"labelPadding":8,"gridDash":[8,977,8]}}
   }},
  {"data":{"name":"pred"},"transform":[{"filter":{"field":"s","oneOf":["S2211","FxFx"]}}],
   "mark":{"type":"rect","clip":true},
   "encoding":{"x":{"field":"lo","type":"quantitative"},"x2":{"field":"hi"},"y":{"field":"bl","type":"quantitative"},"y2":{"field":"bh"},
    "fill":{"field":"s","type":"nominal","scale":{"domain":["S221","MG5","S2211","FxFx","NNLO","NLO"],"range":["#c8f2c0","#ffffff","#c9ddfa","rgba(139,90,43,0.3)","rgba(222,60,60,0.5)","rgba(176,64,192,0.28)"]},"legend":null}}},
  {"data":{"name":"hat"},
   "mark":{"type":"area","interpolate":"step-after","clip":true},
   "encoding":{"x":{"field":"x","type":"quantitative"},"y":{"field":"rlo","type":"quantitative"},"y2":{"field":"rhi"}}},
  {"data":{"values":[{}]},"mark":{"type":"rule","strokeWidth":2.5,"color":"black"},
   "encoding":{"y":{"datum":1,"type":"quantitative"}}},
  {"data":{"name":"pred"},"transform":[{"filter":{"field":"s","oneOf":["S2211","FxFx"]}}],
   "mark":{"type":"rule","strokeWidth":3,"clip":true},
   "encoding":{"x":{"field":"lo","type":"quantitative"},"x2":{"field":"hi"},"y":{"field":"r","type":"quantitative"},
    "color":{"field":"s","type":"nominal","scale":{"domain":["S221","MG5","S2211","FxFx","NNLO","NLO"],"range":["#3c9f3c","#f07d1e","#3d82e6","#7b4b25","#e8262a","#b325c4"]},"legend":null}}},
  {"data":{"name":"pred"},"transform":[{"filter":{"field":"s","oneOf":["S2211","FxFx"]}}],
   "mark":{"type":"point","fill":"white","strokeWidth":2,"size":150,"clip":true},
   "encoding":{"x":{"field":"c","type":"quantitative"},"y":{"field":"r","type":"quantitative"},
    "stroke":{"field":"s","type":"nominal","scale":{"domain":["S221","MG5","S2211","FxFx","NNLO","NLO"],"range":["#3c9f3c","#f07d1e","#3d82e6","#7b4b25","#e8262a","#b325c4"]},"legend":null},
    "shape":{"field":"s","type":"nominal","scale":{"domain":["S221","MG5","S2211","FxFx","NNLO","NLO"],"range":["square","triangle-up","circle","triangle-down","M0,-1L0.55,0L0,1L-0.55,0Z","M0,-1L0.18,-0.18L0.7,0L0.18,0.18L0,1L-0.18,0.18L-0.7,0L-0.18,-0.18Z"]},"legend":null}}},
  {"data":{"values":[{}]},
   "mark":{"type":"text","text":"Pred. / data","fontSize":40,"angle":270,"align":"center","baseline":"alphabetic"},
   "encoding":{"x":{"datum":-0.31,"type":"quantitative"},"y":{"datum":0.616,"type":"quantitative"}}},
  {"data":{"name":"splits"},
   "mark":{"type":"rule","strokeWidth":6,"color":"black"},
   "encoding":{"x":{"field":"b","type":"quantitative"}}}
 ]
},
{
 "width":993,"height":170,
 "layer":[
  {"data":{"name":"hat"},"mark":{"type":"point","opacity":0},
   "encoding":{
    "x":{"field":"x","type":"quantitative","scale":{"domain":[0,4],"nice":false,"zero":false},"axis":{"values":[0,0.1,0.2,0.3,0.4,0.5,0.6,0.7,0.8,0.9,1,1.1,1.2,1.3,1.4,1.5,1.6,1.7,1.8,1.9,2,2.1,2.2,2.3,2.4,2.5,2.6,2.7,2.8,2.9,3,3.1,3.2,3.3,3.4,3.5,3.6,3.7,3.8,3.9,4],"labels":false,"title":null,"gridDash":{"condition":{"test":"abs(datum.value*2-round(datum.value*2))<0.001","value":[22,126,22]},"value":[11,148,11]}}},
    "y":{"field":"rlo","type":"quantitative","scale":{"domain":[0.42,1.61],"nice":false,"zero":false},"axis":{"values":[0.5,0.75,1,1.25,1.5],"title":null,"labelOverlap":false,"labelExpr":"datum.value==0.75||datum.value==1.25?'':toString(datum.value)","labelFontSize":27,"labelPadding":8,"gridDash":[8,977,8]}}
   }},
  {"data":{"name":"pred"},"transform":[{"filter":{"field":"s","oneOf":["NLO","NNLO"]}}],
   "mark":{"type":"rect","clip":true},
   "encoding":{"x":{"field":"lo","type":"quantitative"},"x2":{"field":"hi"},"y":{"field":"bl","type":"quantitative"},"y2":{"field":"bh"},
    "fill":{"field":"s","type":"nominal","scale":{"domain":["S221","MG5","S2211","FxFx","NNLO","NLO"],"range":["#c8f2c0","#ffffff","#c9ddfa","rgba(139,90,43,0.3)","rgba(222,60,60,0.5)","rgba(176,64,192,0.28)"]},"legend":null}}},
  {"data":{"name":"hat"},
   "mark":{"type":"area","interpolate":"step-after","clip":true},
   "encoding":{"x":{"field":"x","type":"quantitative"},"y":{"field":"rlo","type":"quantitative"},"y2":{"field":"rhi"}}},
  {"data":{"values":[{}]},"mark":{"type":"rule","strokeWidth":2.5,"color":"black"},
   "encoding":{"y":{"datum":1,"type":"quantitative"}}},
  {"data":{"name":"pred"},"transform":[{"filter":{"field":"s","oneOf":["NLO","NNLO"]}}],
   "mark":{"type":"rule","strokeWidth":3,"clip":true},
   "encoding":{"x":{"field":"lo","type":"quantitative"},"x2":{"field":"hi"},"y":{"field":"r","type":"quantitative"},
    "color":{"field":"s","type":"nominal","scale":{"domain":["S221","MG5","S2211","FxFx","NNLO","NLO"],"range":["#3c9f3c","#f07d1e","#3d82e6","#7b4b25","#e8262a","#b325c4"]},"legend":null}}},
  {"data":{"name":"pred"},"transform":[{"filter":{"field":"s","equal":"NNLO"}}],
   "mark":{"type":"point","fill":"white","stroke":"#e8262a","strokeWidth":2,"size":320,"shape":"M0,-1L0.55,0L0,1L-0.55,0Z","clip":true},
   "encoding":{"x":{"field":"c","type":"quantitative"},"y":{"field":"r","type":"quantitative"}}},
  {"data":{"name":"pred"},"transform":[{"filter":{"field":"s","equal":"NLO"}}],
   "mark":{"type":"point","filled":true,"color":"#b325c4","size":420,"shape":"M0,-1L0.18,-0.18L0.7,0L0.18,0.18L0,1L-0.18,0.18L-0.7,0L-0.18,-0.18Z","clip":true},
   "encoding":{"x":{"field":"c","type":"quantitative"},"y":{"field":"r","type":"quantitative"}}},
  {"data":{"name":"xl"},
   "mark":{"type":"text","fontSize":33,"align":"center","baseline":"alphabetic"},
   "encoding":{"x":{"field":"v","type":"quantitative"},"y":{"datum":0.155,"type":"quantitative"},"text":{"field":"v","type":"quantitative"}}},
  {"data":{"values":[{}]},
   "layer":[
    {"mark":{"type":"rect","fill":"rgba(222,60,60,0.3)"},
     "encoding":{"x":{"datum":0.0685,"type":"quantitative"},"x2":{"datum":0.1732},"y":{"datum":1.414,"type":"quantitative"},"y2":{"datum":1.204}}},
    {"mark":{"type":"rule","color":"#e8262a","strokeWidth":3},
     "encoding":{"x":{"datum":0.0725,"type":"quantitative"},"x2":{"datum":0.1732},"y":{"datum":1.309,"type":"quantitative"}}},
    {"mark":{"type":"point","fill":"white","stroke":"#e8262a","strokeWidth":2,"size":320,"shape":"M0,-1L0.55,0L0,1L-0.55,0Z"},
     "encoding":{"x":{"datum":0.1208,"type":"quantitative"},"y":{"datum":1.309,"type":"quantitative"}}},
    {"mark":{"type":"text","text":"NNLOJET NNLO","fontSize":26,"align":"left","baseline":"alphabetic"},
     "encoding":{"x":{"datum":0.1934,"type":"quantitative"},"y":{"datum":1.232,"type":"quantitative"}}},
    {"mark":{"type":"rect","fill":"rgba(176,64,192,0.2)"},
     "encoding":{"x":{"datum":1.43,"type":"quantitative"},"x2":{"datum":1.531},"y":{"datum":1.414,"type":"quantitative"},"y2":{"datum":1.204}}},
    {"mark":{"type":"rule","color":"#b325c4","strokeWidth":3},
     "encoding":{"x":{"datum":1.43,"type":"quantitative"},"x2":{"datum":1.531},"y":{"datum":1.309,"type":"quantitative"}}},
    {"mark":{"type":"point","filled":true,"color":"#b325c4","size":420,"shape":"M0,-1L0.18,-0.18L0.7,0L0.18,0.18L0,1L-0.18,0.18L-0.7,0L-0.18,-0.18Z"},
     "encoding":{"x":{"datum":1.478,"type":"quantitative"},"y":{"datum":1.309,"type":"quantitative"}}},
    {"mark":{"type":"text","text":"NNLOJET NLO","fontSize":26,"align":"left","baseline":"alphabetic"},
     "encoding":{"x":{"datum":1.535,"type":"quantitative"},"y":{"datum":1.232,"type":"quantitative"}}},
    {"mark":{"type":"text","text":"Collinear","fontSize":51,"font":"DejaVu Sans Condensed, DejaVu Sans","fontWeight":"bold","color":"#0a46ff","align":"left","baseline":"alphabetic"},
     "encoding":{"x":{"datum":0.0524,"type":"quantitative"},"y":{"datum":-0.215,"type":"quantitative"}}},
    {"mark":{"type":"text","text":"Back to back","fontSize":52,"font":"DejaVu Sans Condensed, DejaVu Sans","fontWeight":"bold","color":"#ff0000","align":"left","baseline":"alphabetic"},
     "encoding":{"x":{"datum":2.0544,"type":"quantitative"},"y":{"datum":-0.24,"type":"quantitative"}}},
    {"mark":{"type":"text","text":"ΔR","fontSize":34,"align":"left","baseline":"alphabetic"},
     "encoding":{"x":{"datum":3.6657,"type":"quantitative"},"y":{"datum":-0.245,"type":"quantitative"}}},
    {"mark":{"type":"text","text":"min","fontSize":17,"align":"left","baseline":"alphabetic"},
     "encoding":{"x":{"datum":3.863,"type":"quantitative"},"y":{"datum":-0.1,"type":"quantitative"}}},
    {"mark":{"type":"text","text":"Z,j","fontSize":17,"align":"left","baseline":"alphabetic"},
     "encoding":{"x":{"datum":3.863,"type":"quantitative"},"y":{"datum":-0.259,"type":"quantitative"}}}
   ]},
  {"data":{"name":"splits"},
   "mark":{"type":"rule","strokeWidth":6,"color":"black"},
   "encoding":{"x":{"field":"b","type":"quantitative"},"y":{"datum":1.61,"type":"quantitative"},"y2":{"datum":-0.34}}}
 ]
}
]
}
